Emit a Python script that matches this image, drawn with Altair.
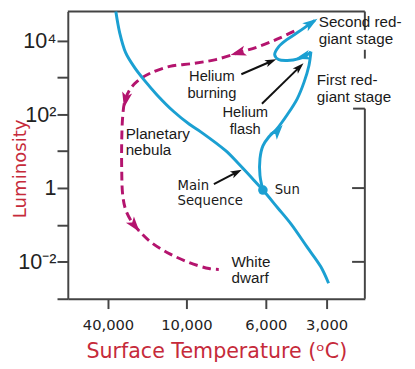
import altair as alt
import pandas as pd

# ---------------- axes ----------------
x_tick_values = [40000, 10000, 6000, 3000]
x_tick_labels = ["40,000", "10,000", "6,000", "3,000"]
y_tick_values = [0.001, 0.01, 0.1, 1, 10, 100, 1000, 10000]
y_tick_labels = ["", "10⁻²", "", "1\u00a0", "", "10²", "", "10⁴"]

# ---------------- main sequence (temperature, luminosity) ----------------
ms_temp = [37000, 35500, 33250, 29875, 26125, 21250, 14875, 9850, 9260, 8024,
           7382, 6690, 6147, 5419, 4742, 3967, 3290, 2902]
ms_lum = [61000, 15900, 4680, 1870, 844, 336, 119, 53.6, 32.9, 10.3,
          4.62, 1.85, 0.885, 0.294, 0.104, 0.0254, 0.00745, 0.00263]

# ---------------- Sun's track: to first red-giant tip ----------------
rg1_temp = [6147, 6295, 6295, 6147, 5855, 5468, 4935, 4451, 4112, 3870, 3774]
rg1_lum = [0.885, 2.22, 6.28, 13.9, 24.2, 39.4, 98.8, 263, 745, 2110, 4977]

# ---------------- helium burning loop and second red-giant stage ----------------
rg2_temp = [3774, 4016, 4354, 4935, 5371, 5564, 5371, 4984, 4403, 3580]
rg2_lum = [4977, 3890, 3240, 2870, 3050, 4140, 6760, 10370, 16940, 35300]

# ---------------- planetary nebula -> white dwarf (dashed) ----------------
pn_temp = [4596, 5419, 6394, 7382, 8518, 9654, 16375, 23875, 28750, 31750, 33625,
           34375, 34750, 34750, 34375, 33250, 31000, 27625, 23125, 16375, 9852, 8864, 8370]
pn_lum = [18000, 11040, 6760, 4680, 3050, 2390, 1990, 1294, 793, 457, 219,
          87.4, 18.9, 3.01, 0.651, 0.26, 0.125, 0.0636, 0.0324, 0.0165, 0.00952, 0.00659, 0.00621]

# ---------------- arrowheads ----------------
cyan_arrow_temp = [5419, 4161, 3774]
cyan_arrow_lum = [34.9, 3664, 29400]
cyan_arrow_angle = [40, 255, 56]

pink_arrow_temp = [7382, 33250, 29875]
pink_arrow_lum = [4680, 248, 0.0976]
pink_arrow_angle = [253, 192, 142]

# ---------------- black annotation arrows ----------------
note_tail_temp = [7234, 6196, 8617]
note_tail_lum = [1217, 194, 1.28]
note_head_temp = [5758, 4354, 7481]
note_head_lum = [2700, 1868, 2.66]
note_angle = [67, 46, 63]

# ---------------- Sun ----------------
sun_temp = [6147]
sun_lum = [0.885]

# ---------------- labels ----------------
left_labels = ["Second red-", "giant stage", "First red-", "giant stage",
               "Planetary", "nebula", "White", "dwarf"]
left_label_temp = [3386, 3386, 3483, 3483, 33250, 33250, 7728, 7728]
left_label_lum = [31240, 11040, 843, 297, 29.0, 10.9, 0.0101, 0.00357]

center_labels = ["Helium", "burning", "Helium", "flash"]
center_label_temp = [8716, 8716, 7036, 7036]
center_label_lum = [1076, 380, 118, 40.5]

dv_labels = ["Main", "Sequence", "Sun"]
dv_label_temp = [13375, 13375, 5564]
dv_label_lum = [1.13, 0.451, 0.885]

# ---------------- partial frame (top / right) ----------------
frame_t1 = [55375, 1111, 1111, 1111, 1692, 1741, 1741]
frame_t2 = [1111, 1111, 1111, 1111, 1111, 1111, 1111]
frame_l1 = [61200, 61200, 5620, 142.6, 142.6, 1, 0.01]
frame_l2 = [61200, 19140, 3240, 0.001, 142.6, 1, 0.01]

CYAN = "#1ba0d2"
PINK = "#b4146e"
RED = "#c62a3a"
AXIS = "#444444"
ARROW = "M0,-1L0.62,0.9L0,0.45L-0.62,0.9Z"


def expr(values, labels):
    parts = [f"datum.value == {v} ? '{l}'" for v, l in zip(values, labels)]
    return " : ".join(parts) + " : ''"


xscale = alt.Scale(domain=[55375, 10000, 6000, 1111], range=[0, 121, 202, 303],
                   nice=False, zero=False)
yscale = alt.Scale(type="log", domain=[0.001, 61200], nice=False)

X = alt.X("t:Q", scale=xscale,
          axis=alt.Axis(values=x_tick_values, labelExpr=expr(x_tick_values, x_tick_labels),
                        grid=False, tickSize=10, tickWidth=2, tickColor=AXIS,
                        domainColor=AXIS, domainWidth=2, labelFont="DejaVu Sans",
                        labelFontSize=15, labelColor="#222222", labelPadding=9,
                        title="Surface Temperature (ᵒC)", titleFont="DejaVu Sans",
                        titleFontSize=21, titleFontWeight="normal", titleColor=RED,
                        titleX=151.5, titleY=60, titleAlign="center",
                        titleBaseline="alphabetic"))
Y = alt.Y("l:Q", scale=yscale,
          axis=alt.Axis(values=y_tick_values, labelExpr=expr(y_tick_values, y_tick_labels),
                        grid=False, tickSize=11, tickWidth=2, tickColor=AXIS,
                        domainColor=AXIS, domainWidth=2, labelFont="Liberation Sans",
                        labelFontSize=22, labelColor="#222222", labelPadding=1,
                        labelBaseline="middle",
                        title="Luminosity", titleFont="DejaVu Sans", titleFontSize=18.5,
                        titleFontWeight="normal", titleColor=RED, titleAngle=270,
                        titleX=-43, titleY=160, titleAlign="center",
                        titleBaseline="alphabetic"))
Xn = alt.X("t:Q", scale=xscale)
Yn = alt.Y("l:Q", scale=yscale)


def line_df(temps, lums, seg):
    return pd.DataFrame({"t": temps, "l": lums, "seg": seg, "i": range(len(temps))})


ms_df = line_df(ms_temp, ms_lum, "ms")
track_df = pd.concat([line_df(rg1_temp, rg1_lum, "a"), line_df(rg2_temp, rg2_lum, "b")])
pn_df = line_df(pn_temp, pn_lum, "pn")

frame_df = pd.DataFrame({"t": frame_t1, "t2": frame_t2, "l": frame_l1, "l2": frame_l2})
frame = alt.Chart(frame_df).mark_rule(color=AXIS, strokeWidth=2).encode(
    x=X, x2="t2:Q", y=Y, y2="l2:Q")

pn_line = alt.Chart(pn_df).mark_line(color=PINK, strokeWidth=3, strokeDash=[9, 5],
                                     interpolate="catmull-rom").encode(
    x=Xn, y=Yn, order="i:Q")
ms_line = alt.Chart(ms_df).mark_line(color=CYAN, strokeWidth=3,
                                     interpolate="catmull-rom").encode(
    x=Xn, y=Yn, order="i:Q")
track_line = alt.Chart(track_df).mark_line(color=CYAN, strokeWidth=3,
                                           interpolate="catmull-rom").encode(
    x=Xn, y=Yn, detail="seg:N", order="i:Q")


def heads(temps, lums, angles, color, size):
    df = pd.DataFrame({"t": temps, "l": lums, "a": angles})
    return alt.Chart(df).mark_point(shape=ARROW, filled=True, color=color, opacity=1,
                                    size=size, strokeWidth=0).encode(
        x=Xn, y=Yn, angle=alt.Angle("a:Q", scale=None))


cyan_heads = heads(cyan_arrow_temp, cyan_arrow_lum, cyan_arrow_angle, CYAN, 260)
pink_heads = heads(pink_arrow_temp, pink_arrow_lum, pink_arrow_angle, PINK, 280)

note_df = pd.DataFrame({"t": note_tail_temp, "l": note_tail_lum,
                        "t2": note_head_temp, "l2": note_head_lum})
note_rules = alt.Chart(note_df).mark_rule(color="#111111", strokeWidth=2).encode(
    x=Xn, x2="t2:Q", y=Yn, y2="l2:Q")
black_heads = heads(note_head_temp, note_head_lum, note_angle, "#111111", 150)

sun = alt.Chart(pd.DataFrame({"t": sun_temp, "l": sun_lum})).mark_circle(
    color=CYAN, opacity=1, size=95).encode(x=Xn, y=Yn)


def labels(texts, temps, lums, font, size, align):
    df = pd.DataFrame({"t": temps, "l": lums, "txt": texts})
    return alt.Chart(df).mark_text(font=font, fontSize=size, align=align,
                                   baseline="middle", color="#1a1a1a").encode(
        x=Xn, y=Yn, text="txt:N")


left_text = labels(left_labels, left_label_temp, left_label_lum, "Liberation Sans", 15.5, "left")
center_text = labels(center_labels, center_label_temp, center_label_lum, "Liberation Sans", 15, "center")
dv_text = labels(dv_labels, dv_label_temp, dv_label_lum, "DejaVu Sans", 13.5, "left")

chart = alt.layer(
    frame, pn_line, ms_line, track_line, note_rules,
    cyan_heads, pink_heads, black_heads, sun,
    left_text, center_text, dv_text,
).properties(
    width=303, height=293,
    autosize=alt.AutoSizeParams(type="none"),
    padding={"left": 61, "top": 0, "right": 43, "bottom": 64},
).configure_view(strokeWidth=0)

chart.save("out.html", embed_options={"renderer": "svg", "actions": False})
